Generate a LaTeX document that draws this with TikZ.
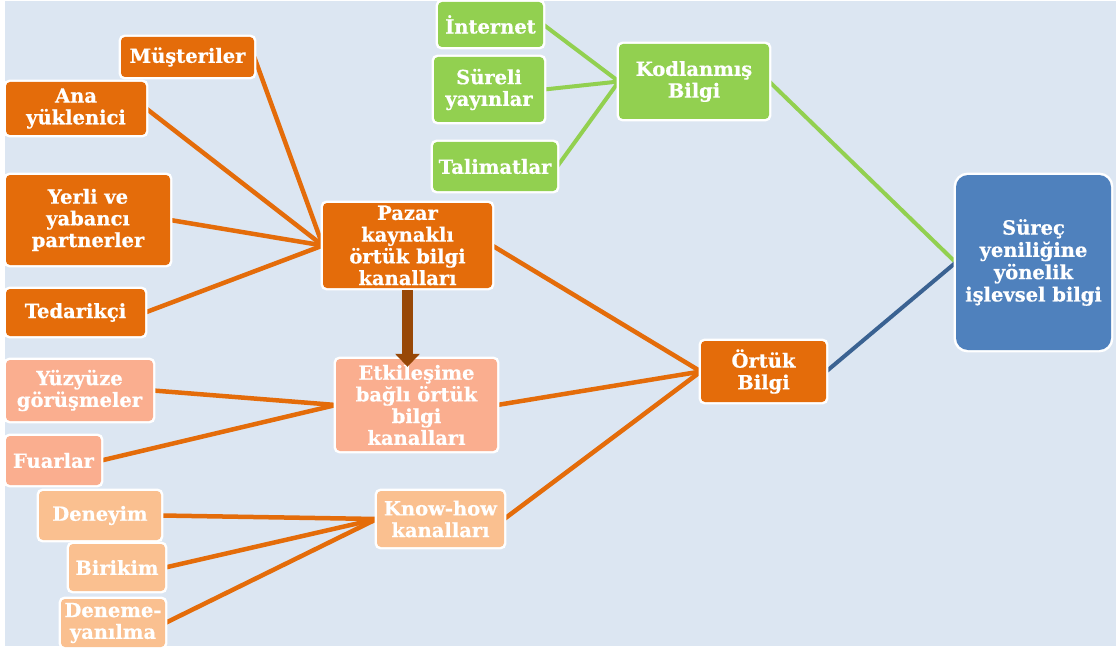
\documentclass[tikz,border=0pt]{standalone}
\usepackage{fontspec}
\setmainfont{DejaVu Serif}[BoldFeatures={FakeBold=0.6}]
\usetikzlibrary{arrows.meta,backgrounds}

\definecolor{bgblue}{RGB}{220,230,242}
\definecolor{korange}{RGB}{228,108,10}
\definecolor{ksalmon}{RGB}{250,174,143}
\definecolor{kpeach}{RGB}{250,192,144}
\definecolor{kgreen}{RGB}{146,208,80}
\definecolor{kblue}{RGB}{79,129,189}
\definecolor{kblueline}{RGB}{58,98,146}
\definecolor{kbrown}{RGB}{152,72,7}

\tikzset{
  kbox/.style={rectangle, rounded corners=4pt, inner sep=0pt, align=center,
    text=white, font=\fontsize{19.5}{21.7}\selectfont\bfseries,
    append after command={
      \pgfextra{\draw[white, line width=4.5pt, rounded corners=4pt]
        (\tikzlastnode.south west) rectangle (\tikzlastnode.north east);}}},
  orangebox/.style={kbox, fill=korange},
  salmonbox/.style={kbox, fill=ksalmon},
  peachbox/.style={kbox, fill=kpeach},
  greenbox/.style={kbox, fill=kgreen},
  goalbox/.style={rectangle, rounded corners=12pt, inner sep=0pt, align=center,
    text=white, font=\fontsize{19.5}{22.3}\selectfont\bfseries, fill=kblue,
    append after command={
      \pgfextra{\draw[white, line width=4.5pt, rounded corners=12pt]
        (\tikzlastnode.south west) rectangle (\tikzlastnode.north east);}}},
  oline/.style={korange, line width=4.5pt},
  gline/.style={kgreen, line width=4pt},
  bline/.style={kblueline, line width=4pt},
  flowarrow/.style={kbrown, line width=11pt, -{Triangle[width=24pt,length=13pt]}},
}

\begin{document}
\begin{tikzpicture}[x=1pt, y=-1pt]
\useasboundingbox (0,0) rectangle (1116,650);

% market-sourced tacit knowledge sources
\node[orangebox, minimum width=133pt, minimum height=40pt] (mus) at (187.5,57) {Müşteriler};
\node[orangebox, minimum width=140pt, minimum height=53pt] (ana) at (76,108.5) {Ana\\yüklenici};
\node[orangebox, minimum width=164pt, minimum height=90pt] (yer) at (88,220) {Yerli ve\\yabancı\\partnerler};
\node[orangebox, minimum width=139pt, minimum height=47pt] (ted) at (75.5,312.5) {Tedarikçi};
\node[orangebox, minimum width=169pt, minimum height=85pt] (paz) at (407.5,245.5) {Pazar\\kaynaklı\\örtük bilgi\\kanalları};

% interaction-based channels
\node[salmonbox, minimum width=147pt, minimum height=61pt] (yuz) at (79.5,390.5) {Yüzyüze\\görüşmeler};
\node[salmonbox, minimum width=95pt, minimum height=49pt] (fua) at (53.5,460.5) {Fuarlar};
\node[salmonbox, minimum width=161pt, minimum height=92pt] (etk) at (416.5,405) {Etkileşime\\bağlı örtük\\bilgi\\kanalları};

% know-how channels
\node[peachbox, minimum width=122pt, minimum height=49pt] (den) at (100,515.5) {Deneyim};
\node[peachbox, minimum width=96pt, minimum height=47pt] (bir) at (117,567.5) {Birikim};
\node[peachbox, minimum width=104pt, minimum height=48pt] (dny) at (113,623) {Deneme-\\yanılma};
\node[peachbox, minimum width=127pt, minimum height=56pt] (kno) at (440.5,519) {Know-how\\kanalları};

\node[orangebox, minimum width=125pt, minimum height=61pt] (ort) at (763.5,371.5) {Örtük\\Bilgi};

% codified knowledge
\node[greenbox, minimum width=105pt, minimum height=45pt] (int) at (490.5,24.5) {İnternet};
\node[greenbox, minimum width=110pt, minimum height=65pt] (sur) at (489,89.5) {Süreli\\yayınlar};
\node[greenbox, minimum width=124pt, minimum height=49pt] (tal) at (495,166.5) {Talimatlar};
\node[greenbox, minimum width=150pt, minimum height=75pt] (kod) at (694,81.5) {Kodlanmış\\Bilgi};

\node[goalbox, minimum width=155pt, minimum height=175pt] (sys) at (1033.5,262.5) {Süreç\\yeniliğine\\yönelik\\işlevsel bilgi};

% vertical flow from market channels to interaction channels
\draw[flowarrow] ([yshift=-2pt]paz.south) -- ([yshift=-8pt]paz.south |- etk.north);

\begin{pgfonlayer}{background}
  \fill[bgblue] (5,1) rectangle (1116,646);
  \foreach \s in {mus,ana,yer,ted} \draw[oline] (\s.east) -- (paz.west);
  \foreach \s in {yuz,fua} \draw[oline] (\s.east) -- (etk.west);
  \foreach \s in {den,bir,dny} \draw[oline] (\s.east) -- (kno.west);
  \foreach \s in {paz,etk,kno} \draw[oline] (\s.east) -- (ort.west);
  \foreach \s in {int,sur,tal} \draw[gline] (\s.east) -- (kod.west);
  \draw[gline] (kod.east) -- (sys.west);
  \draw[bline] (ort.east) -- (sys.west);
\end{pgfonlayer}
\end{tikzpicture}
\end{document}
